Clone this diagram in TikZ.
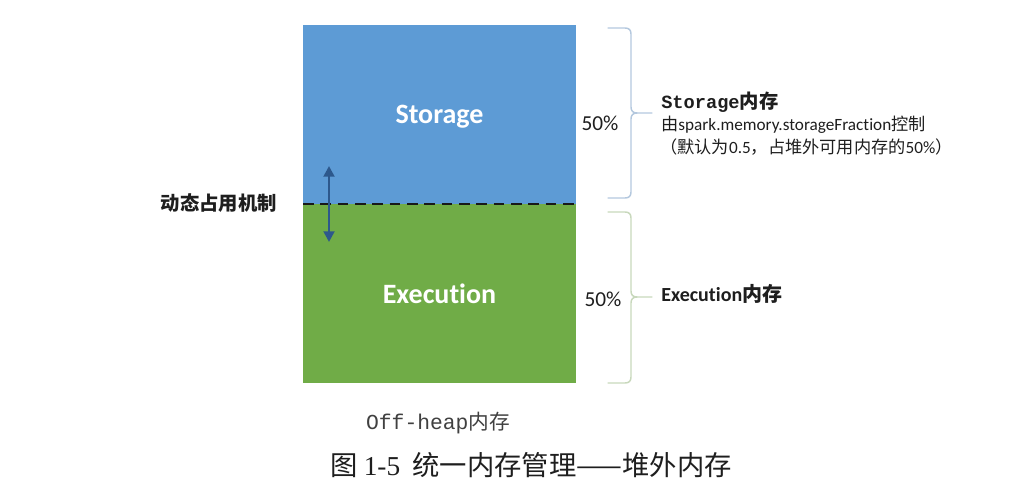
\documentclass[tikz,border=0pt]{standalone}
\usepackage{fontspec}
\setmainfont[RawFeature={-liga;-calt;-clig}]{Carlito}
\newfontfamily\cjk{Noto Sans CJK SC}
\newfontfamily\monof{Liberation Mono}
\newfontfamily\capserif{Liberation Serif}
\usetikzlibrary{arrows.meta}
\definecolor{stblue}{RGB}{93,155,213}
\definecolor{exgreen}{RGB}{112,172,71}
\definecolor{arrblue}{RGB}{45,88,140}
\definecolor{bracea}{RGB}{180,200,222}
\definecolor{braceb}{RGB}{200,216,188}
\definecolor{txt}{RGB}{30,30,30}
\begin{document}
\begin{tikzpicture}[x=0.75pt,y=-0.75pt,
  region/.style={minimum width=204.75pt,minimum height=134.25pt,inner sep=0pt,outer sep=0pt,draw=none,anchor=north west},
  inlabel/.style={text=white,font=\bfseries\fontsize{21}{25}\selectfont,inner sep=0pt},
  divider/.style={line width=2.1pt,dash pattern=on 8pt off 5pt,black!90},
  dblarrow/.style={arrblue,line width=2.2pt,{Triangle[width=8pt,length=8pt]}-{Triangle[width=8pt,length=8pt]}},
  bracepath/.style={line width=1.1pt,line cap=round,line join=round},
  pct/.style={text=txt,font=\fontsize{16}{19}\selectfont,inner sep=0pt},
  rtext/.style={text=txt,anchor=west,inner sep=0pt},
]
\useasboundingbox (0,0) rectangle (1010,500);

% regions
\node[region,fill=stblue] (stor) at (303,25) {};
\node[region,fill=exgreen] (exec) at (303,204) {};
\node[inlabel] (storlbl) at ([yshift=-1.5pt]stor.center) {Storage};
\node[inlabel] (execlbl) at (exec.center) {Execution};

% dashed divider
\draw[divider] (stor.south west) -- (stor.south east);

% double arrow
\coordinate (arrtop) at (329,166);
\coordinate (arrbot) at (329,242);
\draw[dblarrow] (arrtop) -- (arrbot);

% left label
\node[text=txt,font=\cjk\bfseries\fontsize{14.5}{17}\selectfont,anchor=east,inner sep=0pt] (dyn) at (277,203) {动态占用机制};

% percentages
\node[pct] (p1) at (600,123) {50\%};
\node[pct] (p2) at (603,299) {50\%};

% braces
\draw[bracepath,bracea] (608,28) -- (625,28) .. controls (629,28) and (631,30) .. (631,34) -- (631,107)
  .. controls (631,111) and (633,113) .. (637,113) -- (652,113);
\draw[bracepath,bracea] (637,113) .. controls (633,113) and (631,115) .. (631,119) -- (631,192)
  .. controls (631,196) and (629,198) .. (625,198) -- (608,198);
\draw[bracepath,braceb] (608,212) -- (625,212) .. controls (629,212) and (631,214) .. (631,218) -- (631,291)
  .. controls (631,295) and (633,297) .. (637,297) -- (652,297);
\draw[bracepath,braceb] (637,297) .. controls (633,297) and (631,299) .. (631,303) -- (631,377)
  .. controls (631,381) and (629,383) .. (625,383) -- (608,383);

% right texts
\node[rtext] (st1) at (661,102) {{\monof\bfseries\fontsize{14}{17}\selectfont Storage}{\cjk\bfseries\fontsize{14.5}{17}\selectfont 内存}};
\node[rtext] (st2) at (661,125) {\fontsize{12.9}{15}\selectfont{\cjk 由}spark.memory.storageFraction{\cjk 控制}};
\node[rtext] (st3) at (660,147) {\fontsize{12.9}{15}\selectfont{\cjk （默认为}0.5{\cjk ，占堆外可用内存的}50\%{\cjk ）}};
\node[rtext] (ex1) at (661,294) {\fontsize{15}{18}\selectfont{\bfseries Execution}{\cjk\bfseries 内存}};

% bottom labels
\node[text=black!75,inner sep=0pt] (offheap) at (438,423) {{\monof\fontsize{16}{19}\selectfont Off-heap}{\cjk\fontsize{15.5}{19}\selectfont 内存}};
\node[text=txt,inner sep=0pt] (caption) at (531,465) {\fontsize{20.5}{24}\selectfont{\cjk 图}\ {\capserif 1-5}\ \ {\cjk 统一内存管理——堆外内存}};
\end{tikzpicture}
\end{document}
